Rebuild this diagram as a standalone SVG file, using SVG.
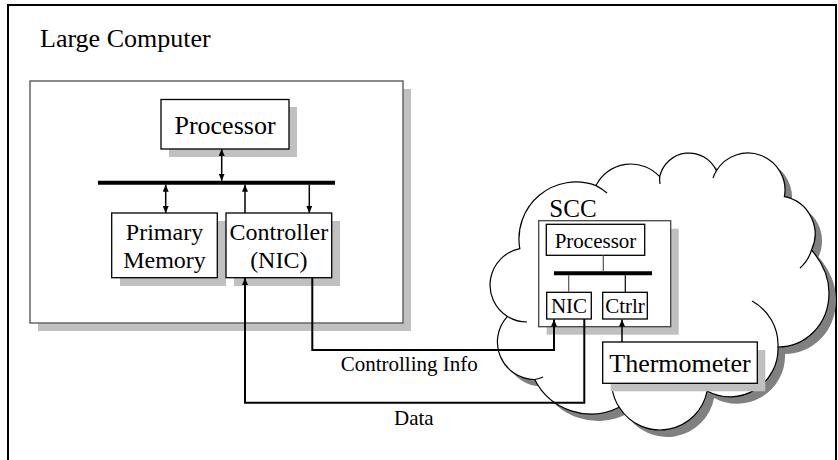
<svg xmlns="http://www.w3.org/2000/svg" width="838" height="460" viewBox="0 0 838 460">
<style>
.t{font-family:"Liberation Serif","Times New Roman",serif;fill:#000}
.box{fill:#fff;stroke:#000;stroke-width:1.3}
.sh{fill:#c0c0c0}
.ln{fill:none;stroke:#000;stroke-width:1.5}
.cn{fill:none;stroke:#000;stroke-width:2}
.bus{stroke:#000;stroke-width:4}
.tail{fill:none;stroke:#000;stroke-width:1.2}
</style>
<defs>
<marker id="ah" viewBox="0 0 7 6" refX="7" refY="3" markerWidth="7" markerHeight="6" markerUnits="userSpaceOnUse" orient="auto-start-reverse"><path d="M0,0 L7,3 L0,6 z" fill="#000"/></marker>
<path id="cloud" d="M519.8,248.7 A57 57 0 0 1 596,185.6 A39 39 0 0 1 659.7,176.7 A30 30 0 0 1 716.4,170.8 A37 37 0 0 1 784.4,196.7 A38 38 0 0 1 811.5,250 C822,262 829,276 829,293 C829,325 805,347 778,347 A48 48 0 0 1 707.1,391 A48 48 0 0 1 619.2,407.3 A63 63 0 0 1 534.7,379.5 A37.5 37.5 0 0 1 507.5,316.4 A37 37 0 0 1 519.8,248.7 Z"/>
</defs>
<rect x="0" y="0" width="838" height="460" fill="#fff"/>
<rect id="frame" x="8" y="5" width="828" height="470" fill="none" stroke="#000" stroke-width="2"/>
<text class="t" x="40" y="47" font-size="26">Large Computer</text>

<g id="large-computer">
<rect class="sh" x="38" y="89" width="373" height="242"/>
<rect x="30" y="81" width="373" height="242" fill="#fff" stroke="#666" stroke-width="1.5"/>
</g>
<g id="processor">
<rect class="sh" x="169" y="107" width="128" height="50"/>
<rect class="box" x="161" y="99.5" width="128" height="49.5"/>
<text class="t" x="225" y="134" font-size="26" text-anchor="middle">Processor</text>
</g>
<g id="bus"><line class="bus" x1="98" y1="182.7" x2="335" y2="182.7"/></g>
<g id="primary-memory">
<rect class="sh" x="120" y="221" width="106" height="65"/>
<rect class="box" x="111.7" y="213" width="105.6" height="64.7"/>
<text class="t" x="164.5" y="240" font-size="24" text-anchor="middle">Primary</text>
<text class="t" x="164.5" y="268" font-size="24" text-anchor="middle">Memory</text>
</g>
<g id="controller">
<rect class="sh" x="234" y="221" width="106" height="65"/>
<rect class="box" x="226" y="213" width="105.7" height="64.7"/>
<text class="t" x="278.8" y="240" font-size="24" text-anchor="middle">Controller</text>
<text class="t" x="278.8" y="268" font-size="24" text-anchor="middle">(NIC)</text>
</g>

<g id="scc-cloud">
<use href="#cloud" transform="translate(7,7)" fill="#808080"/>
<use href="#cloud" fill="#fff" stroke="#000" stroke-width="1.2"/>
<path class="tail" d="M527,322 A37 37 0 0 1 507.5,316.4"/>
<path class="tail" d="M596,185.6 A57 57 0 0 1 607,193"/>
<path class="tail" d="M660,184 A30 30 0 0 1 659.7,176.7"/>
<path class="tail" d="M713,178 A37 37 0 0 1 716.4,170.8"/>
<path class="tail" d="M811.5,250 A38 38 0 0 1 800,268"/>
<path class="tail" d="M752,301 A50 50 0 0 1 778,347"/>
<path class="tail" d="M619.2,407.3 A48 48 0 0 1 612,388"/>
<path class="tail" d="M543,377 A37.5 37.5 0 0 1 534.7,379.5"/>
<text class="t" x="549.3" y="216.7" font-size="25">SCC</text>
</g>
<g id="scc">
<rect class="sh" x="546.7" y="228.7" width="132" height="106"/>
<rect x="538.7" y="220.7" width="132" height="106" fill="#fff" stroke="#444" stroke-width="1.3"/>
</g>
<g id="scc-processor">
<rect class="box" x="546.3" y="224.3" width="98.4" height="31"/>
<text class="t" x="595.5" y="247.7" font-size="21" text-anchor="middle">Processor</text>
</g>
<g id="scc-bus"><line class="bus" x1="554" y1="273.3" x2="652" y2="273.3"/></g>
<g id="nic">
<rect class="box" x="546.7" y="292.3" width="44.6" height="26.7"/>
<text class="t" x="569" y="313.3" font-size="21" text-anchor="middle">NIC</text>
</g>
<g id="ctrlr">
<rect class="box" x="602.7" y="292.3" width="44.6" height="26.7"/>
<text class="t" x="625" y="313.3" font-size="21" text-anchor="middle">Ctrlr</text>
</g>
<g id="thermometer">
<rect class="sh" x="610.7" y="350" width="154.6" height="41.3"/>
<rect class="box" x="602.7" y="342" width="154.6" height="41.3"/>
<text class="t" x="680" y="371.7" font-size="26" text-anchor="middle">Thermometer</text>
</g>

<g id="connectors">
<line class="ln" x1="221.7" y1="149" x2="221.7" y2="180.7" marker-start="url(#ah)" marker-end="url(#ah)"/>
<line class="ln" x1="165.7" y1="184.7" x2="165.7" y2="213" marker-start="url(#ah)" marker-end="url(#ah)"/>
<line class="ln" x1="245" y1="213" x2="245" y2="184.7" marker-end="url(#ah)"/>
<line class="ln" x1="309.3" y1="184.7" x2="309.3" y2="213" marker-end="url(#ah)"/>
<line stroke="#555" stroke-width="1.2" x1="603.3" y1="255.3" x2="603.3" y2="271.3"/>
<line stroke="#555" stroke-width="1.2" x1="568.7" y1="275.3" x2="568.7" y2="292.3"/>
<line stroke="#000" stroke-width="1.2" x1="625.3" y1="275.3" x2="625.3" y2="292.3"/>
<path class="cn" d="M312.3,277.7 V350 H554 V319.5" marker-end="url(#ah)"/>
<path class="cn" d="M584.3,319 V402.7 H245 V278" marker-end="url(#ah)"/>
<path class="ln" d="M622,342 V319.5" marker-end="url(#ah)"/>
<text class="t" x="340.7" y="370.7" font-size="21">Controlling Info</text>
<text class="t" x="394" y="425" font-size="21">Data</text>
</g>
</svg>
